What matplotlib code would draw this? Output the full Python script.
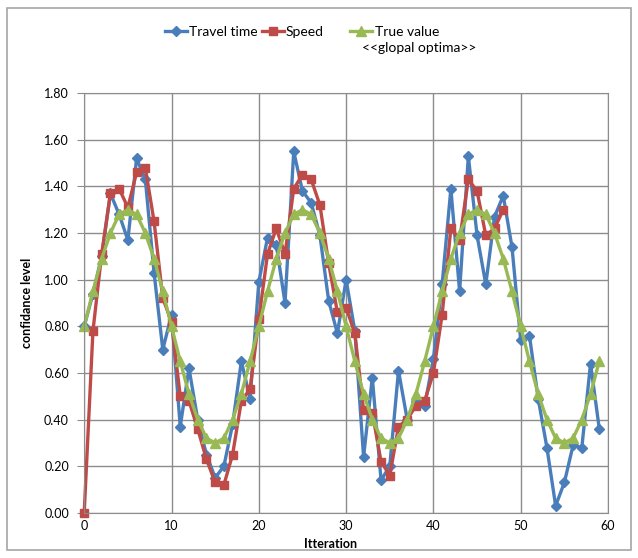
import numpy as np
import matplotlib
matplotlib.use("Agg")
from matplotlib import pyplot as plt
from matplotlib.patches import Rectangle

plt.rcParams['font.family'] = ['Lato', 'DejaVu Sans']

# values
travel_time = [0.80, 0.94, 1.10, 1.37, 1.28, 1.17, 1.52, 1.43, 1.03, 0.70,
               0.85, 0.37, 0.62, 0.40, 0.25, 0.15, 0.20, 0.38, 0.65, 0.49,
               0.99, 1.18, 1.15, 0.90, 1.55, 1.38, 1.33, 1.19, 0.91, 0.77,
               1.00, 0.78, 0.24, 0.58, 0.14, 0.20, 0.61, 0.40, 0.48, 0.46,
               0.66, 0.98, 1.39, 0.95, 1.53, 1.19, 0.98, 1.27, 1.36, 1.14,
               0.74, 0.76, 0.49, 0.28, 0.03, 0.13, 0.29, 0.28, 0.64, 0.36]

speed = [0.00, 0.78, 1.11, 1.37, 1.39, 1.31, 1.46, 1.48, 1.25, 0.92,
         0.82, 0.50, 0.48, 0.36, 0.23, 0.13, 0.12, 0.25, 0.48, 0.53,
         0.83, 1.11, 1.22, 1.11, 1.39, 1.45, 1.43, 1.32, 1.07, 0.86,
         0.88, 0.77, 0.44, 0.43, 0.22, 0.16, 0.37, 0.40, 0.46, 0.48,
         0.60, 0.85, 1.22, 1.17, 1.43, 1.38, 1.19, 1.22, 1.30]

true_value = [0.80, 0.95, 1.09, 1.20, 1.28, 1.30, 1.28, 1.20, 1.09, 0.95,
              0.80, 0.65, 0.51, 0.40, 0.32, 0.30, 0.32, 0.40, 0.51, 0.65,
              0.80, 0.95, 1.09, 1.20, 1.28, 1.30, 1.28, 1.20, 1.09, 0.95,
              0.80, 0.65, 0.51, 0.40, 0.32, 0.30, 0.32, 0.40, 0.51, 0.65,
              0.80, 0.95, 1.09, 1.20, 1.28, 1.30, 1.28, 1.20, 1.09, 0.95,
              0.80, 0.65, 0.51, 0.40, 0.32, 0.30, 0.32, 0.40, 0.51, 0.65]

x_ticks = [0, 10, 20, 30, 40, 50, 60]
y_ticks = [0.0, 0.2, 0.4, 0.6, 0.8, 1.0, 1.2, 1.4, 1.6, 1.8]

blue = "#4A7EBB"
red = "#BE4B48"
green = "#98B954"
grid = "#8C8C8C"

fig = plt.figure(figsize=(6.38, 5.58), dpi=100)
fig.patches.append(Rectangle((0.011, 0.014), 0.978, 0.972, transform=fig.transFigure,
                             fill=False, edgecolor="#A6A6A6", lw=1.2))

ax = fig.add_axes([0.132, 0.081, 0.821, 0.752])

l1, = ax.plot(range(len(travel_time)), travel_time, color=blue, lw=2.4,
              marker="D", ms=5.5, clip_on=False, label="Travel time")
l2, = ax.plot(range(len(speed)), speed, color=red, lw=2.4,
              marker="s", ms=6, clip_on=False, label="Speed")
l3, = ax.plot(range(len(true_value)), true_value, color=green, lw=2.4,
              marker="^", ms=6.5, clip_on=False, label="True value")

ax.set_xlim(0, 60)
ax.set_ylim(0, 1.8)
ax.set_xticks(x_ticks)
ax.set_yticks(y_ticks)
ax.set_yticklabels(["%.2f" % v for v in y_ticks])
ax.grid(True, color=grid, lw=1)
ax.set_axisbelow(True)
for s in ax.spines.values():
    s.set_color(grid)
ax.tick_params(axis="y", length=5, color=grid, labelsize=9, pad=6)
ax.tick_params(axis="x", length=0, labelsize=9, pad=5)

ax.set_ylabel("confidance level", fontsize=9, fontweight="bold", labelpad=8)
ax.set_xlabel("Itteration", fontsize=9, fontweight="bold")
ax.xaxis.set_label_coords(0.47, -0.06)

leg_kw = dict(frameon=False, fontsize=10, handlelength=1.6,
              handletextpad=0.15, columnspacing=0.3, borderpad=0, borderaxespad=0)
leg1 = fig.legend(handles=[l1, l2], loc="center left", ncol=2,
                  bbox_to_anchor=(0.258, 0.943), **leg_kw)
leg2 = fig.legend(handles=[l3], loc="center left",
                  bbox_to_anchor=(0.549, 0.943), **leg_kw)
fig.text(0.567, 0.914, "<<glopal optima>>", fontsize=10, va="center", ha="left")

fig.savefig("out.png", dpi=100)
